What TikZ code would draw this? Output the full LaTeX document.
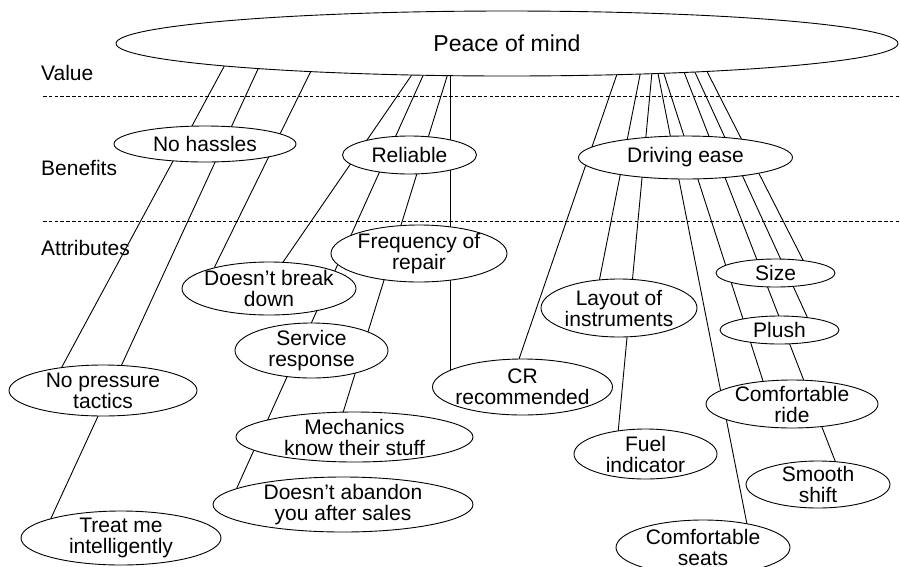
\documentclass[tikz,border=0pt]{standalone}
\usepackage{fontspec}
\setmainfont{Liberation Sans}
\usetikzlibrary{shapes.geometric,calc}
\pgfdeclarelayer{bg}
\pgfsetlayers{bg,main}
\begin{document}
\begin{tikzpicture}[x=1pt,y=-1pt,
  every node/.style={font=\fontsize{21}{21}\selectfont},
  oval/.style 2 args={ellipse, draw, fill=white, line width=0.9pt, inner sep=-40pt, outer sep=0pt, align=center, minimum width=#1pt, minimum height=#2pt},
  link/.style={line width=0.9pt, shorten <=-10pt, shorten >=-6pt},
  sepline/.style={line width=0.8pt, dash pattern=on 3.5pt off 2.3pt},
  lev/.style={anchor=base west, inner sep=0pt}]
\useasboundingbox (0,0) rectangle (900,566);

% levels
\node[lev] (lval) at (41,80.5) {Value};
\node[lev] (lben) at (41,175) {Benefits};
\node[lev] (latt) at (41,255) {Attributes};

% nodes
\node[oval={782}{65}, font=\fontsize{23}{23}\selectfont] (pom) at (507,43.5) {Peace of mind};
\node[oval={182}{36}] (nh) at (205,144) {No hassles};
\node[oval={134}{38}] (rel) at (409.5,155) {Reliable};
\node[oval={214}{43}] (de) at (685.5,157.5) {Driving ease};
\node[oval={174}{53}] (dbd) at (269,288.5) {Doesn’t break\\down};
\node[oval={176}{57}] (fr) at (419,253.5) {Frequency of\\repair};
\node[oval={153}{55}] (sr) at (311.5,350.5) {Service\\response};
\node[oval={188}{51}] (npt) at (103,390.5) {No pressure\\tactics};
\node[oval={200}{54}] (tmi) at (121,538) {Treat me\\intelligently};
\node[oval={237}{50}] (mks) at (354.5,437) {Mechanics\\know their stuff};
\node[oval={260}{55}] (das) at (343,504.5) {Doesn’t abandon\\you after sales};
\node[oval={156}{58}] (loi) at (619,308) {Layout of\\instruments};
\node[oval={119}{28}] (size) at (775.5,273) {Size};
\node[oval={119}{28}] (plush) at (779.5,330) {Plush};
\node[oval={180}{56}] (cr) at (522.5,387) {CR\\recommended};
\node[oval={172}{48}] (crd) at (792,404) {Comfortable\\ride};
\node[oval={143}{50}] (fi) at (645.5,454) {Fuel\\indicator};
\node[oval={144}{47}] (ss) at (818,484.5) {Smooth\\shift};
\node[oval={174}{55}] (cs) at (703,547.5) {Comfortable\\seats};

\begin{pgfonlayer}{bg}
  \draw[sepline] (43,96) -- (900,96);
  \draw[sepline] (43,221.5) -- (900,221.5);
  % left group (No hassles)
  \draw[link] ($(pom.center)+(-283.2,23.5)$) -- ($(npt.center)+(-41,-23.8)$);
  \draw[link] ($(pom.center)+(-249,25.5)$) -- ($(tmi.center)+(-69.3,-21.3)$);
  \draw[link] ($(pom.center)+(-197,29.5)$) -- ($(dbd.center)+(-52,-26.5)$);
  % middle group (Reliable)
  \draw[link] ($(pom.center)+(-95.3,31.5)$) -- ($(dbd.center)+(14.3,-26.8)$);
  \draw[link] ($(pom.center)+(-83.7,31.5)$) -- ($(das.center)+(-106.3,-16.2)$);
  \draw[link] ($(pom.center)+(-59.7,32)$) -- ($(mks.center)+(-11.2,-25.3)$);
  \draw[link] ($(pom.center)+(-56.3,32.5)$) -- ($(cr.center)+(-71.8,-17)$);
  % right group (Driving ease)
  \draw[link] ($(pom.center)+(109.7,31.5)$) -- ($(cr.center)+(-3.5,-28)$);
  \draw[link] ($(pom.center)+(133,31.5)$) -- ($(loi.center)+(-19.5,-28.5)$);
  \draw[link] ($(pom.center)+(144.7,31.5)$) -- ($(fi.center)+(-27.2,-24)$);
  \draw[link] ($(pom.center)+(151.3,31.5)$) -- ($(cs.center)+(43.7,-24.8)$);
  \draw[link] ($(pom.center)+(157.3,31.5)$) -- ($(crd.center)+(-29,-23)$);
  \draw[link] ($(pom.center)+(178,31)$) -- ($(ss.center)+(17,-23.8)$);
  \draw[link] ($(pom.center)+(189,31)$) -- ($(plush.center)+(27.5,-13.5)$);
  \draw[link] ($(pom.center)+(201.3,30.5)$) -- ($(size.center)+(27.5,-13)$);
\end{pgfonlayer}
\end{tikzpicture}
\end{document}
